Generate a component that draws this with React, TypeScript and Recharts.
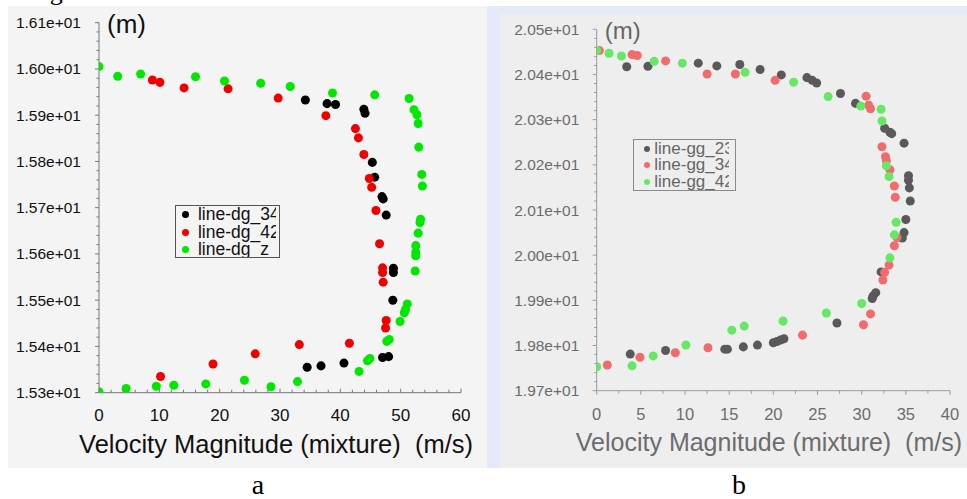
import { ScatterChart, Scatter, XAxis, YAxis, ZAxis, Legend } from 'recharts';

const SANS = '"Liberation Sans", Arial, sans-serif';
const SERIF = '"Liberation Serif", "Times New Roman", serif';

// tick labels (values are parsed from the labels)
const yLabelsA = ['1.53e+01', '1.54e+01', '1.55e+01', '1.56e+01', '1.57e+01', '1.58e+01', '1.59e+01', '1.60e+01', '1.61e+01'];
const xLabelsA = ['0', '10', '20', '30', '40', '50', '60'];
const yLabelsB = ['1.97e+01', '1.98e+01', '1.99e+01', '2.00e+01', '2.01e+01', '2.02e+01', '2.03e+01', '2.04e+01', '2.05e+01'];
const xLabelsB = ['0', '5', '10', '15', '20', '25', '30', '35', '40'];

const xTitle = 'Velocity Magnitude (mixture)  (m/s)';
const yTitle = '(m)';

// panel a: [velocity, position]
const dg34 = [
  [34.2, 15.933], [37.8, 15.925], [39.2, 15.923], [43.9, 15.913], [44.1, 15.904], [45.3, 15.798],
  [45.7, 15.766], [46.9, 15.724], [47.1, 15.719], [47.6, 15.684], [48.8, 15.569], [48.8, 15.56],
  [48.7, 15.5], [48.0, 15.378], [47.0, 15.376], [40.6, 15.364], [36.8, 15.358], [34.5, 15.355],
];
const dg42 = [
  [8.85, 15.976], [10.1, 15.971], [14.1, 15.959], [21.4, 15.957], [29.7, 15.937], [37.6, 15.899],
  [42.5, 15.871], [43.0, 15.851], [43.9, 15.815], [44.8, 15.763], [45.2, 15.744], [45.9, 15.694],
  [46.5, 15.622], [47.0, 15.57], [47.0, 15.56], [47.1, 15.539], [47.6, 15.456], [47.5, 15.44],
  [41.5, 15.407], [33.2, 15.404], [25.9, 15.384], [18.9, 15.362], [10.2, 15.335],
];
const dgZ = [
  [0, 16.005], [3.1, 15.984], [6.9, 15.989], [16.0, 15.983], [20.8, 15.974], [26.8, 15.969],
  [31.7, 15.962], [38.7, 15.948], [45.7, 15.944], [51.4, 15.936], [52.2, 15.912], [52.7, 15.901],
  [52.9, 15.882], [53.0, 15.831], [53.5, 15.772], [53.6, 15.747], [53.3, 15.675], [53.2, 15.668],
  [52.9, 15.645], [52.5, 15.618], [52.5, 15.604], [52.5, 15.596], [52.4, 15.563], [51.1, 15.492],
  [50.8, 15.48], [50.6, 15.473], [49.9, 15.454], [48.1, 15.415], [47.7, 15.411], [44.9, 15.374],
  [44.5, 15.369], [43.1, 15.346], [32.9, 15.324], [28.5, 15.313], [24.1, 15.327], [17.7, 15.319],
  [12.4, 15.316], [9.5, 15.314], [4.5, 15.309], [0, 15.302],
];

// panel b: [velocity, position]
const gg23 = [
  [3.4, 20.417], [5.8, 20.418], [11.5, 20.425], [13.6, 20.419], [16.2, 20.422], [18.5, 20.411],
  [20.9, 20.399], [23.8, 20.393], [24.4, 20.387], [24.9, 20.381], [27.6, 20.358], [29.3, 20.336],
  [32.6, 20.281], [33.2, 20.272], [33.4, 20.269], [34.8, 20.248], [35.3, 20.176], [35.3, 20.166],
  [35.4, 20.149], [35.5, 20.12], [35.0, 20.079], [34.8, 20.05], [34.6, 20.038], [32.2, 19.963],
  [31.6, 19.917], [31.3, 19.91], [31.2, 19.904], [27.2, 19.85], [21.2, 19.815], [20.8, 19.812],
  [20.4, 19.809], [20.0, 19.806], [18.2, 19.801], [16.6, 19.797], [14.8, 19.792], [14.5, 19.792],
  [7.8, 19.789], [3.8, 19.781],
];
const gg34 = [
  [0.3, 20.453], [4.0, 20.444], [4.6, 20.442], [7.8, 20.43], [12.5, 20.401], [15.7, 20.401],
  [20.2, 20.387], [30.5, 20.352], [30.8, 20.332], [31.0, 20.324], [32.3, 20.24], [32.7, 20.218],
  [32.8, 20.209], [33.2, 20.189], [33.7, 20.153], [33.8, 20.128], [34.0, 20.039], [33.7, 20.021],
  [33.1, 19.978], [32.6, 19.962], [32.4, 19.945], [31.0, 19.87], [30.2, 19.846], [23.3, 19.823],
  [12.6, 19.795], [8.9, 19.784], [4.9, 19.774], [1.2, 19.757],
];
const gg42 = [
  [0, 20.453], [1.4, 20.447], [2.8, 20.441], [6.5, 20.429], [9.7, 20.425], [16.8, 20.405],
  [22.3, 20.383], [26.2, 20.351], [29.9, 20.33], [32.2, 20.323], [32.3, 20.297], [32.8, 20.198],
  [33.1, 20.174], [33.9, 20.073], [33.7, 20.045], [33.2, 19.994], [30.0, 19.893], [26.0, 19.872],
  [21.1, 19.854], [16.7, 19.843], [15.3, 19.834], [10.1, 19.801], [6.4, 19.777], [4.0, 19.755],
  [0, 19.753],
];

const toPoints = (pairs: number[][]) => pairs.map(([v, h]) => ({ v, h }));

// major ticks come from the labels, minor ticks split each gap
const withMinor = (labels: string[], parts: number) => {
  const major = labels.map(Number);
  const out: number[] = [];
  for (let i = 0; i < major.length - 1; i++) {
    const step = (major[i + 1] - major[i]) / parts;
    for (let k = 0; k < parts; k++) out.push(+(major[i] + k * step).toFixed(4));
  }
  out.push(major[major.length - 1]);
  return out;
};

const findLabel = (labels: string[], value: number) =>
  labels.find((l) => Math.abs(Number(l) - value) < 1e-6);

const makeYTick = (labels: string[], s: any) => (props: any) => {
  const { x, y, payload } = props;
  const label = findLabel(labels, payload.value);
  return (
    <g>
      <line x1={x - (label ? s.major : s.minor)} x2={x} y1={y} y2={y} stroke={s.line} />
      {label && (
        <text x={x - s.gap} y={y} textAnchor="end" dominantBaseline="central"
          fontSize={s.size} fill={s.color} fontFamily={SANS}>{label}</text>
      )}
    </g>
  );
};

const makeXTick = (labels: string[], s: any) => (props: any) => {
  const { x, y, payload } = props;
  const label = findLabel(labels, payload.value);
  return (
    <g>
      <line x1={x} x2={x} y1={y} y2={y + s.dir * (label ? s.major : s.minor)} stroke={s.line} />
      {label && (
        <text x={x} y={y + s.gap} textAnchor="middle" dominantBaseline="central"
          fontSize={s.size} fill={s.color} fontFamily={SANS}>{label}</text>
      )}
    </g>
  );
};

// boxed legend, names cut off at the clip width like in the source plots
const makeLegend = (o: any) => (props: any) => (
  <div style={{
    width: o.w, height: o.h, boxSizing: 'border-box', border: `1px solid ${o.border}`,
    overflow: 'hidden', fontFamily: SANS, fontSize: o.size, color: o.color,
  }}>
    <div style={{ width: o.clip, height: o.h - 2, overflow: 'hidden' }}>
      {(props.payload || []).map((e: any) => (
        <div key={e.value} style={{ height: o.row, display: 'flex', alignItems: 'center', whiteSpace: 'nowrap' }}>
          <span style={{
            flex: 'none', width: o.dot * 2, height: o.dot * 2, borderRadius: '50%',
            background: e.color, marginLeft: o.dotLeft, marginRight: o.dotGap,
          }} />
          {e.value}
        </div>
      ))}
    </div>
  </div>
);

const ProfileChart = (p: any) => {
  const tickStyle = { color: p.textColor, line: p.axisColor, size: p.tickSize, gap: p.yGap, major: 4, minor: 2.5 };
  return (
    <ScatterChart width={p.width} height={p.height} margin={p.margin}>
      <XAxis
        type="number" dataKey="v" domain={p.xDomain} ticks={withMinor(p.xLabels, p.xParts)}
        interval={0} height={30} tickSize={0} tickMargin={0} tickLine={false}
        axisLine={{ stroke: p.axisColor }} allowDataOverflow
        tick={makeXTick(p.xLabels, { ...tickStyle, size: p.xTickSize, gap: 23, dir: p.xTickDir, major: 4, minor: 3 })}
        label={(lp: any) => {
          const vb = lp.viewBox;
          return (
            <text x={vb.x + vb.width + 12} y={vb.y + 51} textAnchor="end" dominantBaseline="central"
              fontSize={p.titleSize} fill={p.textColor} fontFamily={SANS} style={{ whiteSpace: 'pre' }}>
              {xTitle}
            </text>
          );
        }}
      />
      <YAxis
        type="number" dataKey="h" domain={p.yDomain} ticks={withMinor(p.yLabels, 5)}
        interval={0} width={60} tickSize={0} tickMargin={0} tickLine={false}
        axisLine={{ stroke: p.axisColor }} allowDataOverflow
        tick={makeYTick(p.yLabels, tickStyle)}
        label={(lp: any) => {
          const vb = lp.viewBox;
          return (
            <text x={vb.x + vb.width + 8} y={vb.y + 1} dominantBaseline="central"
              fontSize={p.mSize} fill={p.mColor} fontFamily={SANS}>{yTitle}</text>
          );
        }}
      />
      <ZAxis range={[p.dotArea, p.dotArea]} />
      <Legend
        layout="vertical" align="center" verticalAlign="middle"
        wrapperStyle={{ left: p.legend.left, top: p.legend.top, width: 'auto', height: 'auto' }}
        content={makeLegend(p.legend)}
      />
      {p.series.map((s: any) => (
        <Scatter key={s.name} name={s.name} data={toPoints(s.data)} fill={s.color} isAnimationActive={false} />
      ))}
    </ScatterChart>
  );
};

export default function App() {
  return (
    <div style={{ position: 'absolute', left: 0, top: 0, width: 967, height: 499, background: '#fff', overflow: 'hidden' }}>
      <div style={{ position: 'absolute', left: 8, top: 6, width: 479, height: 462, background: '#f4f4f4' }}>
        <ProfileChart
          width={479} height={462}
          margin={{ top: 16.7, right: 26, bottom: 45.3, left: 31 }}
          xDomain={[0, 60]} yDomain={[15.3, 16.1]}
          xLabels={xLabelsA} yLabels={yLabelsA} xParts={5} xTickDir={-1}
          textColor="#111" mColor="#111" axisColor="#777"
          tickSize={15.5} xTickSize={17} yGap={18} titleSize={25.5} mSize={26}
          dotArea={43}
          legend={{
            left: 166.7, top: 199.3, w: 105, h: 53, clip: 100, border: '#555', size: 17.5, color: '#111',
            row: 17.2, dot: 3.5, dotLeft: 6.8, dotGap: 8.5,
          }}
          series={[
            { name: 'line-dg_34', data: dg34, color: '#000000' },
            { name: 'line-dg_42', data: dg42, color: '#f00000' },
            { name: 'line-dg_z', data: dgZ, color: '#00e800' },
          ]}
        />
      </div>
      <div style={{ position: 'absolute', left: 487, top: 6, width: 480, height: 462, background: '#e4eaf7' }}>
        <div style={{ position: 'absolute', left: 13, top: 8, right: 0, bottom: 0, background: '#eeeeef' }} />
        <div style={{ position: 'absolute', left: 0, top: 0 }}>
          <ProfileChart
            width={480} height={462}
            margin={{ top: 23.3, right: 17, bottom: 47.3, left: 49.7 }}
            xDomain={[0, 40]} yDomain={[19.7, 20.5]}
            xLabels={xLabelsB} yLabels={yLabelsB} xParts={2} xTickDir={1}
            textColor="#6c6c6c" mColor="#666" axisColor="#9a9a9a"
            tickSize={15.5} xTickSize={16.5} yGap={17.4} titleSize={25} mSize={24}
            dotArea={30}
            legend={{
              left: 146.3, top: 133.3, w: 103, h: 52, clip: 95, border: '#8a8a8a', size: 17, color: '#666',
              row: 16.7, dot: 3, dotLeft: 9.4, dotGap: 4.6,
            }}
            series={[
              { name: 'line-gg_23', data: gg23, color: '#595959' },
              { name: 'line-gg_34', data: gg34, color: '#f06c6c' },
              { name: 'line-gg_42', data: gg42, color: '#66e866' },
            ]}
          />
        </div>
      </div>
      <svg width={967} height={499} style={{ position: 'absolute', left: 0, top: 0, pointerEvents: 'none' }}>
        <text x={28} y={0} fontFamily={SERIF} fontSize={26} fill="#000">Figure</text>
        <text x={258} y={494} textAnchor="middle" fontFamily={SERIF} fontSize={28} fill="#000">a</text>
        <text x={739} y={494} textAnchor="middle" fontFamily={SERIF} fontSize={28} fill="#000">b</text>
      </svg>
    </div>
  );
}
